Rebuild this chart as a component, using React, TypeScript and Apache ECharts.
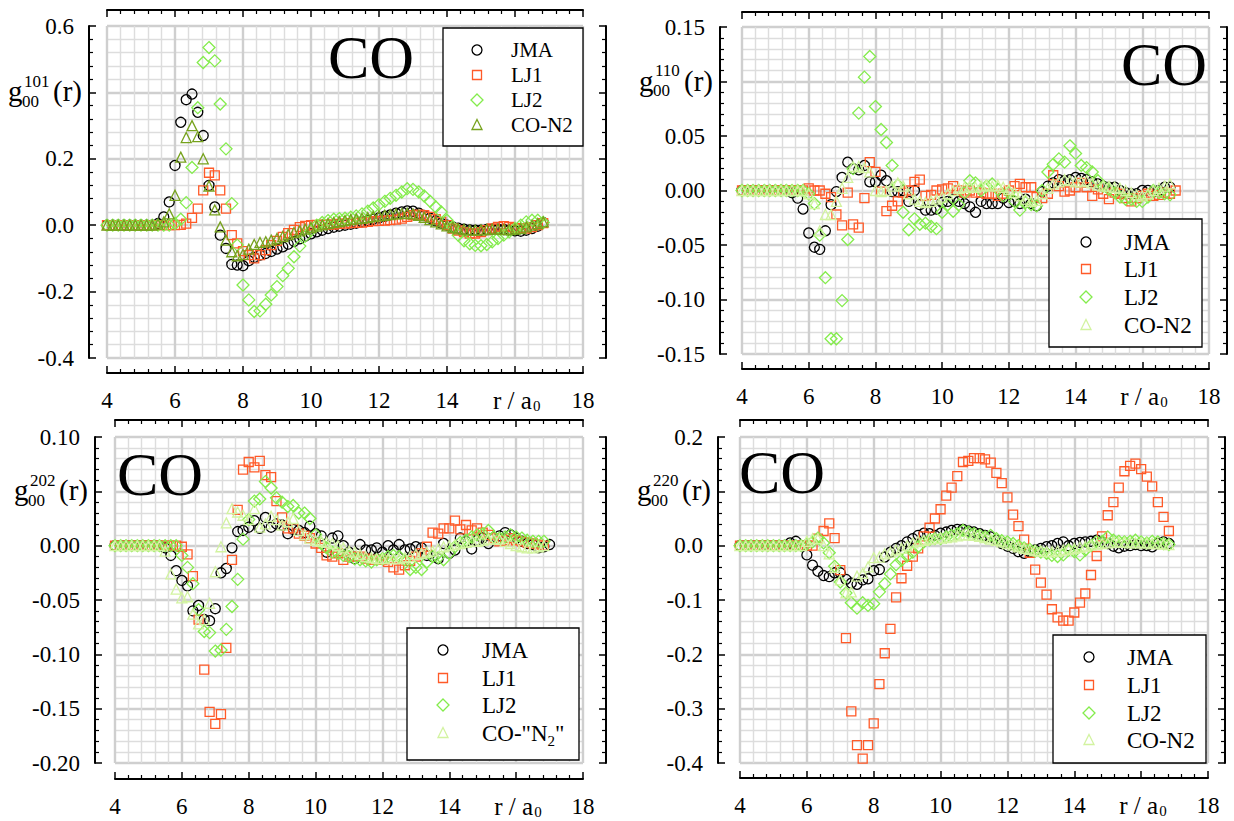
import React, { useEffect, useRef } from "react";
import * as echarts from "echarts";

// Radial grid r / a0 shared by every series (step 1/6 a0)
const R = [
  4.0, 4.17, 4.33, 4.5, 4.67, 4.83, 5.0, 5.17, 5.33, 5.5,
  5.67, 5.83, 6.0, 6.17, 6.33, 6.5, 6.67, 6.83, 7.0, 7.17,
  7.33, 7.5, 7.67, 7.83, 8.0, 8.17, 8.33, 8.5, 8.67, 8.83,
  9.0, 9.17, 9.33, 9.5, 9.67, 9.83, 10.0, 10.17, 10.33, 10.5,
  10.67, 10.83, 11.0, 11.17, 11.33, 11.5, 11.67, 11.83, 12.0, 12.17,
  12.33, 12.5, 12.67, 12.83, 13.0, 13.17, 13.33, 13.5, 13.67, 13.83,
  14.0, 14.17, 14.33, 14.5, 14.67, 14.83, 15.0, 15.17, 15.33, 15.5,
  15.67, 15.83, 16.0, 16.17, 16.33, 16.5, 16.67, 16.83, 17.0,
];

const X_TICKS = [4, 6, 8, 10, 12, 14, 16, 18];

// g00^101(r)
const G101_JMA = [
  0, 0, 0, 0, 0, 0, 0, 0, 0, 0.005,
  0.025, 0.07, 0.18, 0.31, 0.378, 0.395, 0.34, 0.27, 0.12, 0.055,
  -0.03, -0.07, -0.118, -0.12, -0.122, -0.107, -0.097, -0.09, -0.085, -0.079,
  -0.072, -0.065, -0.057, -0.049, -0.041, -0.033, -0.026, -0.02, -0.015, -0.01,
  -0.006, -0.003, 0, 0.003, 0.006, 0.01, 0.014, 0.018, 0.022, 0.027,
  0.031, 0.036, 0.04, 0.043, 0.042, 0.036, 0.029, 0.021, 0.013, 0.006,
  0, -0.005, -0.009, -0.012, -0.014, -0.015, -0.015, -0.013, -0.012, -0.012,
  -0.013, -0.015, -0.017, -0.018, -0.015, -0.01, -0.003, 0.008,
];
const G101_LJ1 = [
  0, 0, 0, 0, 0, 0, 0, 0, 0, 0,
  0, 0, 0, 0.001, 0.005, 0.022, 0.05, 0.105, 0.158, 0.15,
  0.105, 0.05, -0.03, -0.055, -0.078, -0.09, -0.1, -0.09, -0.075, -0.06,
  -0.047, -0.035, -0.024, -0.014, -0.006, -0.002, 0, 0.001, 0.002, 0.002,
  0.002, 0.004, 0.005, 0.006, 0.007, 0.008, 0.01, 0.012, 0.013, 0.014,
  0.015, 0.017, 0.02, 0.025, 0.03, 0.032, 0.03, 0.025, 0.018, 0.01,
  0, -0.01, -0.016, -0.021, -0.025, -0.025, -0.021, -0.015, -0.01, -0.005,
  -0.003, -0.005, -0.009, -0.01, -0.01, -0.006, 0, 0.006,
];
const G101_LJ2 = [
  0, 0, 0, 0, 0, 0, 0, 0, 0, 0,
  0, 0, 0.005, 0.018, 0.068, 0.174, 0.354, 0.49, 0.535, 0.495,
  0.365, 0.23, 0.065, -0.06, -0.18, -0.225, -0.26, -0.258, -0.238, -0.21,
  -0.185, -0.152, -0.13, -0.095, -0.063, -0.033, -0.015, 0, 0.008, 0.014,
  0.018, 0.02, 0.021, 0.024, 0.028, 0.034, 0.042, 0.052, 0.062, 0.072,
  0.081, 0.09, 0.1, 0.11, 0.108, 0.1, 0.088, 0.072, 0.055, 0.04,
  0.015, -0.005, -0.03, -0.047, -0.056, -0.061, -0.062, -0.058, -0.05, -0.04,
  -0.03, -0.02, -0.01, 0, 0.01, 0.015, 0.015, 0.008,
];
const G101_CON2 = [
  0, 0, 0, 0, 0, 0, 0, 0, 0, 0.003,
  0.01, 0.034, 0.09, 0.205, 0.264, 0.3, 0.267, 0.2, 0.118, 0.046,
  -0.005, -0.045, -0.08, -0.092, -0.088, -0.072, -0.058, -0.052, -0.05, -0.045,
  -0.04, -0.034, -0.028, -0.022, -0.017, -0.012, -0.007, -0.003, 0.001, 0.005,
  0.008, 0.011, 0.014, 0.017, 0.019, 0.021, 0.023, 0.026, 0.028, 0.03,
  0.032, 0.034, 0.035, 0.036, 0.034, 0.03, 0.024, 0.017, 0.01, 0.004,
  -0.002, -0.007, -0.011, -0.013, -0.015, -0.015, -0.014, -0.013, -0.012, -0.012,
  -0.013, -0.013, -0.012, -0.01, -0.005, 0, 0.005, 0.01,
];

// g00^110(r)
const G110_JMA = [
  0, 0, 0, 0, 0, 0, 0, 0, 0, -0.002,
  -0.007, -0.017, -0.039, -0.052, -0.054, -0.037, -0.013, -0.001, 0.012, 0.026,
  0.02, 0.019, 0.023, 0.008, 0.008, 0.014, 0.009, -0.001, -0.001, 0,
  -0.01, 0, -0.013, -0.018, -0.018, -0.017, -0.011, -0.01, -0.008, -0.01,
  -0.012, -0.015, -0.02, -0.01, -0.012, -0.012, -0.012, -0.007, -0.011, -0.01,
  -0.012, -0.008, -0.012, -0.014, -0.001, 0.004, 0.007, 0.01, 0.009, 0.01,
  0.012, 0.011, 0.01, 0.008, 0.006, 0.004, 0.003, 0.003, 0, -0.002,
  -0.003, -0.003, 0, 0, -0.001, 0, 0.003, 0.003,
];
const G110_LJ1 = [
  0, 0, 0, 0, 0, 0, 0, 0, 0, 0,
  0, 0, 0.002, 0, 0, -0.003, -0.006, -0.022, -0.032, -0.002,
  -0.031, -0.034, -0.007, 0.026, 0.017, -0.001, -0.019, -0.014, -0.01, -0.002,
  0, 0.008, 0.01, -0.005, -0.004, 0, 0.001, 0.002, 0.004, 0,
  -0.002, 0, -0.002, -0.002, -0.003, -0.003, -0.005, -0.003, 0, 0.004,
  0.006, 0.003, 0.003, -0.006, -0.007, -0.003, 0.014, 0.004, -0.001, 0,
  0.003, 0.007, 0.003, -0.005, 0.001, -0.003, -0.008, -0.002, -0.003, -0.007,
  -0.01, -0.007, -0.005, -0.003, -0.005, -0.004, -0.002, -0.003, 0,
];
const G110_LJ2 = [
  0, 0, 0, 0, 0, 0, 0, 0, 0, 0,
  0, 0, -0.003, -0.012, -0.041, -0.08, -0.136, -0.136, -0.101, -0.045,
  0.02, 0.071, 0.104, 0.123, 0.077, 0.056, 0.044, 0.023, 0.005, -0.02,
  -0.036, -0.026, -0.031, -0.03, -0.033, -0.035, -0.02, -0.013, -0.019, -0.013,
  -0.002, 0.009, 0.007, 0, 0.004, 0.006, 0.001, -0.005, -0.002, -0.01,
  -0.018, -0.011, -0.013, -0.014, 0, 0.017, 0.024, 0.029, 0.026, 0.041,
  0.034, 0.023, 0.021, 0.017, 0.009, 0.004, 0.001, -0.002, -0.006, -0.008,
  -0.008, -0.01, -0.01, -0.006, 0, -0.002, -0.003, -0.004,
];
const G110_CON2 = [
  0, 0, 0, 0, 0, 0, 0, 0, 0, 0,
  0, 0, -0.003, -0.012, -0.037, -0.022, -0.022, -0.01, 0.002, 0.012,
  0.022, 0.022, 0.021, 0.017, 0, -0.001, 0, 0.004, 0.007, 0.004,
  -0.003, -0.008, -0.01, -0.011, -0.01, -0.008, -0.006, -0.003, 0, 0.002,
  0.003, 0.004, 0.003, 0.004, 0.005, 0.004, 0.005, 0.003, 0.001, -0.002,
  -0.005, -0.008, -0.01, -0.009, -0.003, 0.002, 0.006, 0.008, 0.01, 0.009,
  0.008, 0.008, 0.009, 0.007, 0.005, 0.004, 0.004, 0.003, 0.002, 0,
  -0.002, -0.004, -0.005, -0.003, 0, 0.002, 0.004, 0.006,
];

// g00^202(r)
const G202_JMA = [
  0, 0, 0, 0, 0, 0, 0, 0, 0, -0.002,
  -0.009, -0.023, -0.032, -0.037, -0.06, -0.055, -0.068, -0.069, -0.058, -0.025,
  -0.021, -0.002, 0.013, 0.014, 0.017, 0.023, 0.016, 0.026, 0.017, 0.02,
  0.019, 0.011, 0.015, 0.014, 0.012, 0.018, 0.011, 0.009, -0.006, 0.007,
  0.009, 0, -0.006, -0.012, 0.001, -0.004, -0.004, -0.002, -0.006, 0,
  -0.004, 0.001, -0.004, -0.003, -0.001, -0.002, -0.009, -0.01, -0.012, 0.002,
  -0.007, -0.004, 0.007, 0.004, -0.003, 0.005, 0.007, 0.002, 0.007, 0.009,
  0.012, 0.01, 0.007, 0.004, 0.002, 0.001, -0.002, -0.001, 0.001,
];
const G202_LJ1 = [
  0, 0, 0, 0, 0, 0, 0, 0, 0, 0,
  0, 0, -0.001, -0.008, -0.028, -0.068, -0.114, -0.153, -0.164, -0.155,
  -0.094, -0.013, 0.033, 0.07, 0.077, 0.072, 0.078, 0.065, 0.063, 0.041,
  0.026, 0.016, 0.016, 0.011, 0.009, 0.007, 0.002, -0.002, -0.009, -0.01,
  -0.007, -0.013, -0.01, -0.01, -0.01, -0.012, -0.013, -0.013, -0.013, -0.015,
  -0.02, -0.022, -0.018, -0.014, -0.01, -0.007, -0.001, 0.012, 0.011, 0.016,
  0.016, 0.023, 0.015, 0.019, 0.014, 0.016, 0.012, 0.01, 0.007, 0.004,
  0.005, 0.007, 0.005, 0.004, 0.003, 0.002, 0.001, 0,
];
const G202_LJ2 = [
  0, 0, 0, 0, 0, 0, 0, 0, 0, 0,
  0, 0, -0.009, -0.02, -0.035, -0.059, -0.079, -0.08, -0.097, -0.096,
  -0.077, -0.056, -0.031, 0.006, 0.024, 0.041, 0.043, 0.059, 0.053, 0.044,
  0.04, 0.036, 0.037, 0.03, 0.03, 0.025, 0.01, 0.002, -0.002, -0.006,
  -0.007, -0.009, -0.01, -0.012, -0.013, -0.014, -0.015, -0.013, -0.012, -0.01,
  -0.009, -0.01, -0.013, -0.022, -0.02, -0.022, -0.015, -0.01, -0.011, -0.013,
  -0.007, -0.001, 0.003, 0.005, 0.008, 0.01, 0.011, 0.014, 0.008, 0.007,
  0.008, 0.01, 0.008, 0.007, 0.005, 0.004, 0.004, 0.004,
];
const G202_CON2 = [
  0, 0, 0, 0, 0, 0, 0, 0, 0, -0.005,
  -0.026, -0.04, -0.048, -0.047, -0.063, -0.072, -0.068, -0.053, -0.024, -0.001,
  0.021, 0.034, 0.031, 0.028, 0.024, 0.034, 0.017, 0.02, 0.027, 0.024,
  0.019, 0.022, 0.025, 0.014, 0.01, 0.007, 0.005, 0.004, 0.003, 0.002,
  0, -0.002, -0.005, -0.006, -0.008, -0.01, -0.011, -0.012, -0.012, -0.012,
  -0.012, -0.012, -0.011, -0.01, -0.008, -0.007, -0.006, -0.005, -0.003, -0.001,
  0, 0.001, 0.002, 0.003, 0.004, 0.004, 0.005, 0.006, 0.006, 0.006,
  0.004, 0.002, 0, -0.001, -0.002, -0.002, -0.001, 0,
];

// g00^220(r)
const G220_JMA = [
  0, 0, 0, 0, 0, 0, 0, 0, 0, 0.005,
  0.008, 0, -0.017, -0.036, -0.047, -0.055, -0.057, -0.05, -0.05, -0.062,
  -0.069, -0.071, -0.063, -0.061, -0.046, -0.044, -0.021, -0.012, -0.005, 0,
  0.007, 0.013, 0.019, 0.023, 0.022, 0.019, 0.023, 0.025, 0.028, 0.03,
  0.03, 0.027, 0.025, 0.022, 0.019, 0.016, 0.01, 0.004, -0.001, -0.005,
  -0.011, -0.014, -0.011, -0.008, -0.005, -0.002, 0, 0.004, 0.007, 0,
  0.004, 0.006, 0.007, 0.008, 0.01, 0.007, 0.004, -0.001, -0.004, -0.001,
  0, 0.002, 0, 0, -0.002, 0.004, 0.007, 0.004,
];
const G220_LJ1 = [
  0, 0, 0, 0, 0, 0, 0, 0, 0, 0,
  0, 0, 0, 0, 0.013, 0.027, 0.041, 0.014, -0.045, -0.17,
  -0.305, -0.367, -0.392, -0.367, -0.327, -0.255, -0.198, -0.153, -0.095, -0.06,
  -0.037, -0.02, -0.005, 0.017, 0.033, 0.05, 0.067, 0.092, 0.107, 0.128,
  0.154, 0.156, 0.161, 0.161, 0.159, 0.153, 0.134, 0.115, 0.089, 0.057,
  0.036, 0.011, -0.013, -0.044, -0.068, -0.09, -0.117, -0.132, -0.138, -0.138,
  -0.123, -0.105, -0.088, -0.054, -0.019, 0.017, 0.056, 0.08, 0.107, 0.137,
  0.147, 0.151, 0.141, 0.127, 0.109, 0.08, 0.053, 0.027,
];
const G220_LJ2 = [
  0, 0, 0, 0, 0, 0, 0, 0, 0, 0,
  0, 0, 0.003, 0.007, 0.014, 0.005, -0.013, -0.038, -0.067, -0.087,
  -0.105, -0.115, -0.105, -0.11, -0.107, -0.085, -0.07, -0.052, -0.035, -0.027,
  -0.019, -0.012, -0.002, 0.007, 0.011, 0.013, 0.013, 0.016, 0.019, 0.022,
  0.028, 0.025, 0.022, 0.019, 0.016, 0.019, 0.013, 0.009, 0.007, 0.004,
  0, -0.004, -0.007, -0.01, -0.012, -0.014, -0.018, -0.02, -0.017, -0.008,
  -0.011, -0.017, -0.008, 0, 0.007, 0.008, 0.016, 0.01, 0.008, 0.007,
  0.008, 0.01, 0.007, 0.005, 0.008, 0.007, 0.004, 0.002,
];
const G220_CON2 = [
  0, 0, 0, 0, 0, 0, 0, 0, 0, 0,
  0, 0, 0.008, 0.013, 0.013, 0, -0.015, -0.04, -0.063, -0.087,
  -0.085, -0.056, -0.051, -0.039, -0.022, -0.021, -0.015, -0.012, -0.008, -0.005,
  0, 0.005, 0.008, 0.01, 0.012, 0.013, 0.014, 0.015, 0.016, 0.018,
  0.02, 0.02, 0.019, 0.017, 0.015, 0.012, 0.01, 0.007, 0.004, 0.001,
  -0.002, -0.005, -0.007, -0.009, -0.01, -0.011, -0.011, -0.01, -0.008, -0.007,
  -0.005, -0.003, -0.001, 0.001, 0.003, 0.004, 0.005, 0.006, 0.006, 0.006,
  0.005, 0.005, 0.005, 0.005, 0.004, 0.004, 0.003, 0.002,
];

const SERIES_NAMES = ["JMA", "LJ1", "LJ2", "CO-N2"];
const SYMBOLS = ["circle", "rect", "diamond", "triangle"];
const SYMBOL_SIZES = [10, 9, 12, 10];

const FONT = "Liberation Serif, Times New Roman, serif";
const BLACK = "#000000";
const ORANGE = "#ff5a28";
const GREEN = "#84ec4c";
const OLIVE = "#76a21c";
const PALE = "#d2f3a0";

type Panel = {
  box: { left: number; top: number; width: number; height: number };
  off: [number, number, number, number]; // left, right, top, bottom axis offsets
  yMin: number;
  yMax: number;
  yStep: number;
  digits: number;
  titleAt: number;
  sup: string;
  values: number[][];
  colors: string[];
  legend: { x: number; y: number; w: number; h: number; mx: number; tx: number; rows: number[]; font: number; labels: string[] };
  co: [number, number];
};

const PANELS: Panel[] = [
  {
    box: { left: 107, top: 26, width: 476, height: 332 },
    off: [18, 23, 16, 15],
    yMin: -0.4, yMax: 0.6, yStep: 0.2, digits: 1, titleAt: 0.4, sup: "101",
    values: [G101_JMA, G101_LJ1, G101_LJ2, G101_CON2],
    colors: [BLACK, ORANGE, GREEN, OLIVE],
    legend: { x: 443, y: 28, w: 140, h: 118, mx: 477, tx: 511, rows: [50, 75, 100, 125], font: 21, labels: ["JMA", "LJ1", "LJ2", "CO-N2"] },
    co: [371, 57],
  },
  {
    box: { left: 742, top: 27, width: 467, height: 327 },
    off: [22, 18, 15, 15],
    yMin: -0.15, yMax: 0.15, yStep: 0.05, digits: 2, titleAt: 0.1, sup: "110",
    values: [G110_JMA, G110_LJ1, G110_LJ2, G110_CON2],
    colors: [BLACK, ORANGE, GREEN, PALE],
    legend: { x: 1049, y: 219, w: 153, h: 128, mx: 1086, tx: 1124, rows: [242, 269, 297, 325], font: 23, labels: ["JMA", "LJ1", "LJ2", "CO-N2"] },
    co: [1164, 64],
  },
  {
    box: { left: 115, top: 437, width: 468, height: 326 },
    off: [20, 23, 17, 16],
    yMin: -0.2, yMax: 0.1, yStep: 0.05, digits: 2, titleAt: 0.05, sup: "202",
    values: [G202_JMA, G202_LJ1, G202_LJ2, G202_CON2],
    colors: [BLACK, ORANGE, GREEN, PALE],
    legend: { x: 407, y: 628, w: 172, h: 132, mx: 443, tx: 482, rows: [650, 678, 705, 733], font: 23, labels: ["JMA", "LJ1", "LJ2", 'CO-"N{s|2}"'] },
    co: [160, 474],
  },
  {
    box: { left: 740, top: 437, width: 468, height: 326 },
    off: [22, 17, 17, 15],
    yMin: -0.4, yMax: 0.2, yStep: 0.1, digits: 1, titleAt: 0.1, sup: "220",
    values: [G220_JMA, G220_LJ1, G220_LJ2, G220_CON2],
    colors: [BLACK, ORANGE, GREEN, PALE],
    legend: { x: 1053, y: 635, w: 153, h: 128, mx: 1089, tx: 1127, rows: [657, 685, 713, 740], font: 23, labels: ["JMA", "LJ1", "LJ2", "CO-N2"] },
    co: [782, 472],
  },
];

const axisLineStyle = { color: "#000", width: 2 };
const tickStyle = { color: "#000", width: 1.5 };

function frameAxis(extra: any) {
  return {
    type: "value",
    axisLine: { show: true, onZero: false, lineStyle: axisLineStyle },
    axisTick: { show: true, inside: true, length: 7, lineStyle: tickStyle },
    minorTick: { show: true, splitNumber: 5, length: 4, lineStyle: { color: "#000", width: 1.2 } },
    ...extra,
  };
}

const majorGrid = { show: true, lineStyle: { color: "#cfcfcf", width: 2.4 } };
const minorGrid = { show: true, lineStyle: { color: "#dddddd", width: 1.4 } };

function legendMarker(kind: number, x: number, y: number, color: string) {
  const style = { fill: "none", stroke: color, lineWidth: 1.3 };
  if (kind === 0) return { type: "circle", shape: { cx: x, cy: y, r: 5 }, style, z: 20, silent: true };
  if (kind === 1) return { type: "rect", shape: { x: x - 4.5, y: y - 4.5, width: 9, height: 9 }, style, z: 20, silent: true };
  if (kind === 2)
    return { type: "polygon", shape: { points: [[x, y - 6], [x + 6, y], [x, y + 6], [x - 6, y]] }, style, z: 20, silent: true };
  return { type: "polygon", shape: { points: [[x, y - 5.5], [x + 5, y + 4.5], [x - 5, y + 4.5]] }, style, z: 20, silent: true };
}

function buildOption() {
  const grid: any[] = [];
  const xAxis: any[] = [];
  const yAxis: any[] = [];
  const series: any[] = [];
  const elements: any[] = [];

  const txt = (x: number, y: number, text: string, size: number) => ({
    type: "text", x, y, silent: true, z: 20,
    style: { text, fontFamily: FONT, fontSize: size, fill: "#000", align: "left", verticalAlign: "middle" },
  });

  PANELS.forEach((p, k) => {
    const { box, off } = p;
    grid.push({ left: box.left, top: box.top, width: box.width, height: box.height });

    xAxis.push(
      frameAxis({
        gridIndex: k, position: "bottom", offset: off[3], min: X_TICKS[0], max: X_TICKS[X_TICKS.length - 1], interval: 2,
        axisLabel: {
          show: true, margin: 16, color: "#000", fontFamily: FONT, fontSize: 23,
          formatter: (v: number) => (v === 16 ? "" : String(v)),
        },
        splitLine: majorGrid,
        minorSplitLine: minorGrid,
      })
    );
    xAxis.push(
      frameAxis({
        gridIndex: k, position: "top", offset: off[2], min: X_TICKS[0], max: X_TICKS[X_TICKS.length - 1], interval: 2,
        axisLabel: { show: false }, splitLine: { show: false },
      })
    );
    yAxis.push(
      frameAxis({
        gridIndex: k, position: "left", offset: off[0], min: p.yMin, max: p.yMax, interval: p.yStep,
        axisLabel: {
          show: true, margin: 15, color: "#000", fontFamily: FONT, fontSize: 23,
          formatter: (v: number) => {
            if (Math.abs(v - p.titleAt) < 1e-9) return "";
            const t = Math.abs(v) < 1e-9 ? 0 : v;
            return t.toFixed(p.digits);
          },
        },
        splitLine: majorGrid,
        minorSplitLine: minorGrid,
      })
    );
    yAxis.push(
      frameAxis({
        gridIndex: k, position: "right", offset: off[1], min: p.yMin, max: p.yMax, interval: p.yStep,
        axisLabel: { show: false }, splitLine: { show: false },
      })
    );

    p.values.forEach((vals, s) => {
      series.push({
        type: "scatter",
        name: SERIES_NAMES[s],
        xAxisIndex: 2 * k,
        yAxisIndex: 2 * k,
        symbol: SYMBOLS[s],
        symbolSize: SYMBOL_SIZES[s],
        clip: false,
        silent: true,
        z: 3,
        itemStyle: { color: "rgba(0,0,0,0)", borderColor: p.colors[s], borderWidth: 1.3, opacity: 1 },
        data: vals.map((v, i) => [R[i], v]),
      });
    });

    // y-axis title g00^lmn(r) at the position of the hidden tick label
    const y0 = box.top + ((p.yMax - p.titleAt) / (p.yMax - p.yMin)) * box.height;
    const L = box.left - off[0] - 81;
    elements.push(txt(L, y0 - 1, "g", 29));
    elements.push(txt(L + 14, y0 + 9, "00", 17));
    elements.push(txt(L + 16, y0 - 11, p.sup, 17));
    elements.push(txt(L + 45, y0 - 1, "(r)", 29));

    // x-axis title r / a0 at the position of the hidden "16" label
    const pxu = box.width / 14;
    const tx = box.left + 12 * pxu - 22;
    const ty = box.top + box.height + off[3] + 27;
    elements.push(txt(tx, ty, "r / a", 25));
    elements.push(txt(tx + 40, ty + 6, "0", 15));

    // "CO" tag
    elements.push({
      type: "text", silent: true, z: 20, x: p.co[0], y: p.co[1],
      style: { text: "CO", fontFamily: FONT, fontSize: 62, fill: "#000", align: "center", verticalAlign: "middle" },
    });

    // legend box
    const lg = p.legend;
    elements.push({
      type: "rect", silent: true, z: 19,
      shape: { x: lg.x, y: lg.y, width: lg.w, height: lg.h },
      style: { fill: "#fff", stroke: "#000", lineWidth: 1.3 },
    });
    lg.rows.forEach((ry, s) => {
      elements.push(legendMarker(s, lg.mx, ry, p.colors[s]));
      elements.push({
        type: "text", silent: true, z: 20, x: lg.tx, y: ry,
        style: {
          text: lg.labels[s], fontFamily: FONT, fontSize: lg.font, lineHeight: 30, fill: "#000",
          align: "left", verticalAlign: "middle",
          rich: { s: { fontFamily: FONT, fontSize: 15, lineHeight: 15, verticalAlign: "bottom", fill: "#000" } },
        },
      });
    });
  });

  return {
    animation: false,
    backgroundColor: "#ffffff",
    textStyle: { fontFamily: FONT },
    grid,
    xAxis,
    yAxis,
    series,
    graphic: { elements },
  };
}

export default function App() {
  const ref = useRef<HTMLDivElement>(null);
  useEffect(() => {
    if (!ref.current) return;
    const chart = echarts.init(ref.current, undefined, { renderer: "svg" });
    chart.setOption(buildOption() as any);
    return () => chart.dispose();
  }, []);
  return (
    <div
      ref={ref}
      style={{ position: "fixed", left: 0, top: 0, width: 1234, height: 821, background: "#fff" }}
    />
  );
}
